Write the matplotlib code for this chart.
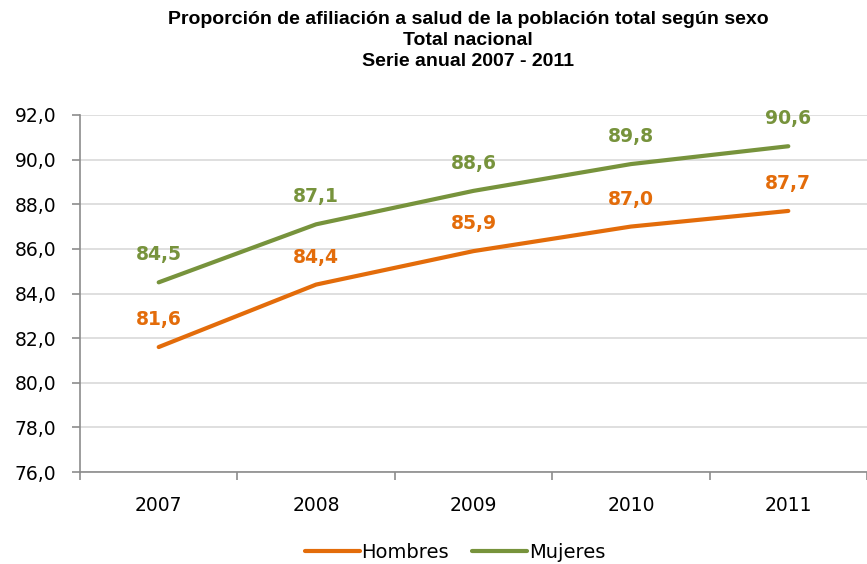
import matplotlib.pyplot as plt
import numpy as np

# Data
years = ["2007", "2008", "2009", "2010", "2011"]
hombres = [81.6, 84.4, 85.9, 87.0, 87.7]
mujeres = [84.5, 87.1, 88.6, 89.8, 90.6]

c_hom = "#E36C0A"
c_muj = "#77933C"
axis_grey = "#8C8C8C"

plt.rcParams['font.family'] = ['DejaVu Sans']

fig = plt.figure(figsize=(8.67, 5.64), dpi=100)
ax = fig.add_axes([80 / 867, 1 - 472 / 564, 1 - 80 / 867, (472 - 115) / 564])

x = np.arange(len(years))
ax.plot(x, hombres, color=c_hom, lw=3, label="Hombres", solid_capstyle='round')
ax.plot(x, mujeres, color=c_muj, lw=3, label="Mujeres", solid_capstyle='round')

# Value labels above the points
for xi, v in zip(x, hombres):
    ax.annotate(f"{v:.1f}".replace(".", ","), (xi, v), xytext=(0, 13), textcoords="offset points",
                ha="center", va="bottom", color=c_hom, fontsize=13.5, fontweight="bold")
for xi, v in zip(x, mujeres):
    ax.annotate(f"{v:.1f}".replace(".", ","), (xi, v), xytext=(0, 13), textcoords="offset points",
                ha="center", va="bottom", color=c_muj, fontsize=13.5, fontweight="bold")

ax.set_ylim(76, 92)
ax.set_yticks(np.arange(76, 92.1, 2))
ax.set_yticklabels([f"{t:.1f}".replace(".", ",") for t in np.arange(76, 92.1, 2)], fontsize=13.5)
ax.set_xlim(-0.5, -0.5 + (867 - 80) / 159)
ax.set_xticks(x)
ax.set_xticklabels(years, fontsize=13.5)
ax.set_xticks(np.arange(-0.5, 5, 1), minor=True)
ax.tick_params(axis='x', which='major', length=0, pad=17)
ax.tick_params(axis='x', which='minor', length=6, color=axis_grey, width=1.2, direction='out')
ax.tick_params(axis='y', length=6, color=axis_grey, width=1.2, pad=11)

ax.grid(axis='y', color="#D9D9D9", lw=1.2)
ax.set_axisbelow(True)
for s in ["top", "right"]:
    ax.spines[s].set_visible(False)
for s in ["left", "bottom"]:
    ax.spines[s].set_color(axis_grey)
    ax.spines[s].set_linewidth(1.2)

fig.text(0.54, 0.98, "Proporción de afiliación a salud de la población total según sexo\nTotal nacional\nSerie anual 2007 - 2011",
         ha="center", va="top", fontsize=14, fontweight="bold", family="Liberation Sans", linespacing=1.3)

fig.legend(loc="lower center", bbox_to_anchor=(0.525, -0.028), ncol=2, frameon=False,
           fontsize=14, handlelength=2.8, handletextpad=0.1, columnspacing=1.2)

fig.savefig("out.png", dpi=100)
